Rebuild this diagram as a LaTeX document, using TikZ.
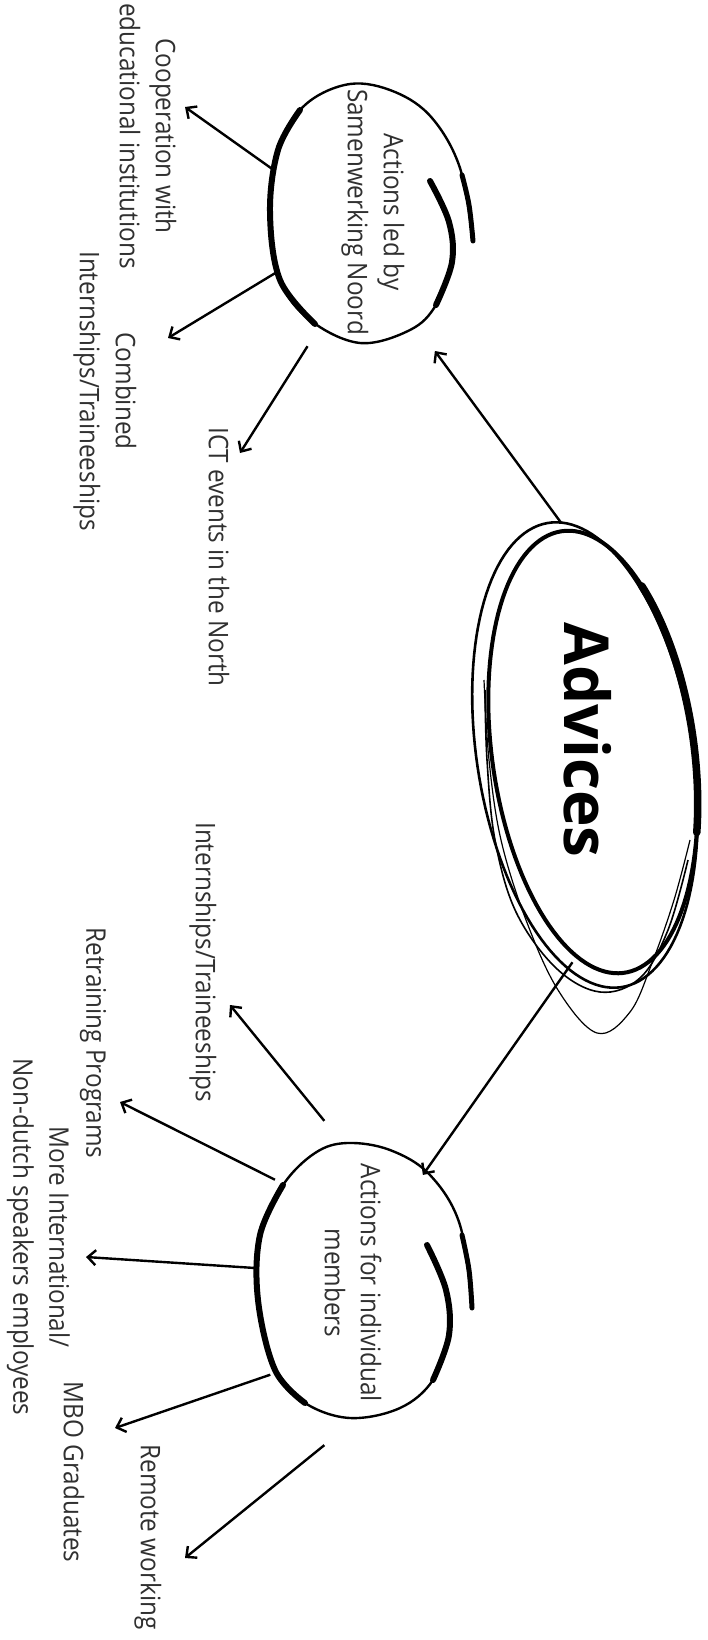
\documentclass[tikz,border=0pt]{standalone}
\usepackage{fontspec}
\setmainfont{Open Sans}
\newfontfamily\lblfont{Open Sans}[FakeStretch=0.9]
\usetikzlibrary{arrows.meta,shapes.geometric}
\definecolor{txt}{HTML}{303030}
\tikzset{
  leaf/.style={rotate=-90, align=center, inner sep=0pt, outer sep=0pt, text=txt,
    font=\lblfont\fontsize{27}{36}\selectfont},
  hub/.style={ellipse, inner sep=0pt, outer sep=0pt, text=txt,
    font=\lblfont\fontsize{27}{36}\selectfont},
  arr/.style={line width=2.4pt, -{Straight Barb[length=8pt,width=15pt,line width=2.4pt]}},
  rim/.style={line width=2.4pt, line cap=round},
  rimthick/.style={line width=6pt, line cap=round},
}
\begin{document}
\begin{tikzpicture}[x=1pt,y=-1pt]
\fill[white] (0,0) rectangle (707,1640);
\useasboundingbox (0,0) rectangle (707,1640);

% ---------- central node ----------
\node[ellipse, inner sep=0pt, outer sep=0pt, minimum width=200pt, minimum height=450pt,
      font=\bfseries\fontsize{62}{70}\selectfont] (adv) at (588,740) {\rotatebox{-90}{Advices}};
\begin{scope}[shift={(585,755)}, rotate=9]
  \draw[line width=2.6pt] plot[domain=0:360, samples=140, variable=\t] ({108*cos(\t)},{235*sin(\t)});
\end{scope}
\begin{scope}[shift={(593,752)}, rotate=8]
  \draw[line width=4pt] plot[domain=0:360, samples=140, variable=\t] ({101*cos(\t)},{223*sin(\t)});
  \draw[line width=7.5pt, line cap=round] plot[domain=-45:25, samples=40, variable=\t] ({101*cos(\t)},{223*sin(\t)});
\end{scope}
\draw[line width=1.6pt] plot[smooth, tension=0.6] coordinates {(485,690) (487,760) (495,840) (516,912) (556,968) (600,992) (640,978) (668,930) (688,860)};
\draw[line width=1.2pt] plot[smooth, tension=0.6] coordinates {(484,680) (489,760) (501,840) (526,920) (558,990) (597,1033) (630,1012) (652,963) (674,900) (690,840)};

% ---------- sub nodes ----------
\node[hub, minimum width=206pt, minimum height=262pt] (sw) at (373,212)
  {\rotatebox{-90}{\begin{tabular}{@{}c@{}}Actions led by\\Samenwerking Noord\end{tabular}}};
\draw[rim] plot[smooth, tension=0.6] coordinates {(430,181) (449,222) (452,262) (436,305) (410,330) (360,343) (310,320) (280,280) (270,212) (278,150) (305,105) (350,84) (395,92) (432,118) (460,168) (473,241)};
\draw[rimthick] plot[smooth, tension=0.6] coordinates {(315,324) (280,280) (270,212) (278,150) (300,110)};
\draw[rimthick] plot[smooth, tension=0.6] coordinates {(430,181) (449,222) (452,262) (436,305)};
\draw[line width=5pt, line cap=round] plot[smooth, tension=0.6] coordinates {(462,175) (469,205) (473,241)};

\node[hub, minimum width=190pt, minimum height=274pt] (mem) at (350,1283)
  {\rotatebox{-90}{\begin{tabular}{@{}c@{}}Actions for individual\\members\end{tabular}}};
\draw[rim] plot[smooth, tension=0.6] coordinates {(427,1245) (446,1290) (449,1335) (433,1380) (400,1408) (350,1418) (305,1403) (275,1370) (258,1300) (260,1235) (283,1185) (315,1153) (347,1143) (390,1150) (430,1175) (460,1225) (472,1308)};
\draw[rimthick] plot[smooth, tension=0.6] coordinates {(305,1403) (275,1370) (258,1300) (260,1235) (283,1185)};
\draw[rimthick] plot[smooth, tension=0.6] coordinates {(427,1245) (446,1290) (449,1335) (433,1380)};
\draw[line width=5pt, line cap=round] plot[smooth, tension=0.6] coordinates {(462,1235) (469,1270) (472,1308)};

% ---------- leaves ----------
\node[leaf] (l1) at (148,136) {Cooperation with\\educational institutions};
\node[leaf] (l2) at (105,391) {Combined\\Internships/Traineeships};
\node[leaf] (l3) at (219,557) {ICT events in the North};
\node[leaf] (l4) at (203,962) {Internships/Traineeships};
\node[leaf] (l5) at (93,1043) {Retraining Programs};
\node[leaf] (l6) at (38.5,1237) {More International/\\Non-dutch speakers employees};
\node[leaf] (l7) at (74,1472) {MBO Graduates};
\node[leaf] (l8) at (148,1537) {Remote working};

% ---------- arrow ends ----------
\coordinate (t1) at (185,107);
\coordinate (t2) at (168,338);
\coordinate (t3) at (240,453);
\coordinate (b1) at (230,1005);
\coordinate (b2) at (120,1102);
\coordinate (b3) at (86,1257);
\coordinate (b4) at (115,1428);
\coordinate (b5) at (185,1558);

% ---------- connectors ----------
\draw[arr] (adv.97) -- (sw.294);
\draw[arr] (adv.266) -- (mem.56);
\draw[arr] (sw.157) -- (t1);
\draw[arr] (sw.212) -- (t2);
\draw[arr] (sw.244) -- (t3);
\draw[arr] (mem.99) -- (b1);
\draw[arr] (mem.126) -- (b2);
\draw[arr] (mem.171) -- (b3);
\draw[arr] (mem.229) -- (b4);
\draw[arr] (mem.261) -- (b5);
\end{tikzpicture}
\end{document}
